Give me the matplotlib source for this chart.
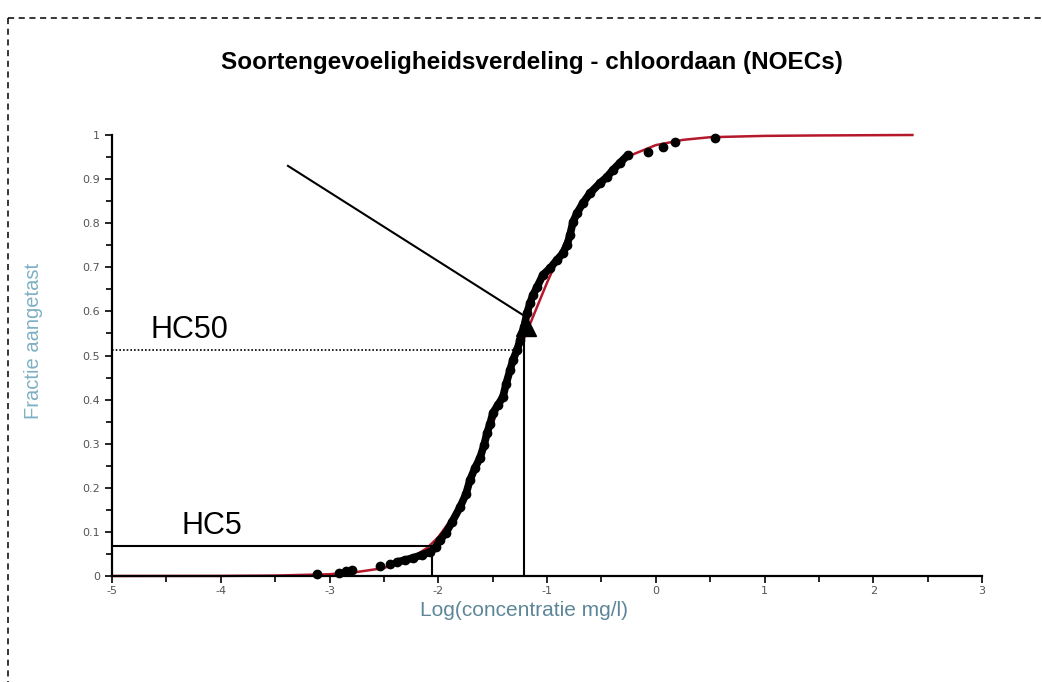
import matplotlib
matplotlib.use("Agg")
import matplotlib.pyplot as plt
from matplotlib.lines import Line2D

# ---- data ----
obs_x = [-3.115, -2.913, -2.848, -2.793, -2.536, -2.444, -2.379, -2.306, -2.232,
         -2.149, -2.076, -2.021, -1.984, -1.929, -1.874, -1.800, -1.745, -1.708,
         -1.662, -1.616, -1.579, -1.552, -1.524, -1.497, -1.451, -1.405, -1.377,
         -1.340, -1.313, -1.276, -1.248, -1.211, -1.184, -1.156, -1.129, -1.092,
         -1.037, -0.972, -0.908, -0.853, -0.816, -0.789, -0.761, -0.724, -0.669,
         -0.605, -0.513, -0.448, -0.393, -0.329, -0.255, -0.071, 0.067, 0.177, 0.545]
obs_y = [0.005, 0.007, 0.011, 0.014, 0.023, 0.027, 0.032, 0.036, 0.041,
         0.048, 0.054, 0.066, 0.082, 0.098, 0.122, 0.156, 0.186, 0.218,
         0.245, 0.268, 0.297, 0.324, 0.345, 0.370, 0.388, 0.406, 0.435,
         0.467, 0.490, 0.512, 0.535, 0.565, 0.596, 0.619, 0.637, 0.655,
         0.683, 0.698, 0.717, 0.732, 0.751, 0.773, 0.803, 0.823, 0.846,
         0.868, 0.891, 0.905, 0.921, 0.937, 0.955, 0.961, 0.973, 0.984, 0.993]

fit_x = [-5.0, -4.0, -3.5, -3.0, -2.75, -2.5, -2.25, -2.1, -2.0, -1.9, -1.8, -1.7,
         -1.6, -1.5, -1.4, -1.3, -1.2, -1.1, -1.0, -0.9, -0.8, -0.7, -0.6, -0.5,
         -0.4, -0.25, 0.0, 0.25, 0.5, 1.0, 1.5, 2.36]
fit_y = [0.0, 0.0002, 0.001, 0.004, 0.009, 0.018, 0.04, 0.064, 0.088, 0.122, 0.165,
         0.215, 0.275, 0.345, 0.415, 0.485, 0.545, 0.605, 0.665, 0.72, 0.775, 0.825,
         0.865, 0.90, 0.925, 0.952, 0.977, 0.989, 0.995, 0.998, 0.999, 1.0]

hc5_x, hc5_y = -2.057, 0.068
hc50_x, hc50_y = -1.21, 0.512
hc50_line_x_end = -1.27
arrow_start = (-3.382, 0.93)
arrow_tip = (-1.19, 0.587)

x_ticks = [-5, -4, -3, -2, -1, 0, 1, 2, 3]
y_ticks = [0, 0.1, 0.2, 0.3, 0.4, 0.5, 0.6, 0.7, 0.8, 0.9, 1.0]
y_ticklabels = ["0", "0.1", "0.2", "0.3", "0.4", "0.5", "0.6", "0.7", "0.8", "0.9", "1"]

title = "Soortengevoeligheidsverdeling - chloordaan (NOECs)"
xlabel = "Log(concentratie mg/l)"
ylabel = "Fractie aangetast"

W, H = 1042, 682
fig = plt.figure(figsize=(W / 100, H / 100), dpi=100)
ax = fig.add_axes([112 / W, 1 - 576 / H, (982 - 112) / W, (576 - 135) / H])
ax.set_xlim(-5, 3)
ax.set_ylim(0, 1)

# fitted curve (red) and observations (black)
ax.plot(fit_x, fit_y, color="#b5182b", lw=1.8, zorder=2, clip_on=False)
dense = slice(6, 51)
ax.plot(obs_x[dense], obs_y[dense], color="black", lw=5.5, solid_capstyle="round",
        zorder=3)
ax.plot(obs_x, obs_y, "o", color="black", ms=6, zorder=4, clip_on=False)

# HC5 lines
ax.plot([-5, hc5_x], [hc5_y, hc5_y], color="black", lw=1.5, zorder=5)
ax.plot([hc5_x, hc5_x], [0, hc5_y], color="black", lw=1.5, zorder=5)
# HC50 lines
ax.plot([-5, hc50_line_x_end], [hc50_y, hc50_y], color="black", lw=1.2,
        ls=(0, (1, 1.2)), zorder=5)
ax.plot([hc50_x, hc50_x], [0, arrow_tip[1] - 0.03], color="black", lw=1.5, zorder=5)
ax.plot([arrow_start[0], arrow_tip[0]], [arrow_start[1], arrow_tip[1]],
        color="black", lw=1.5, zorder=5)
# upward triangle head
ax.plot([arrow_tip[0]], [arrow_tip[1] - 0.02], marker="^", ms=14, color="black",
        zorder=6)

ax.text(-4.65, 0.523, "HC50", fontsize=22, family="Liberation Sans",
        ha="left", va="bottom")
ax.text(-4.36, 0.08, "HC5", fontsize=22, family="Liberation Sans",
        ha="left", va="bottom")

# axes styling
for s in ["top", "right"]:
    ax.spines[s].set_visible(False)
for s in ["left", "bottom"]:
    ax.spines[s].set_linewidth(1.6)
ax.set_xticks(x_ticks)
ax.set_xticklabels([str(v) for v in x_ticks])
ax.set_xticks([v + 0.5 for v in x_ticks[:-1]], minor=True)
ax.set_yticks(y_ticks)
ax.set_yticklabels(y_ticklabels)
ax.set_yticks([v + 0.05 for v in y_ticks[:-1]], minor=True)
ax.tick_params(axis="both", which="both", direction="out", colors="black",
               labelcolor="#555555", labelsize=8, width=1.2)
ax.tick_params(axis="both", which="major", length=5)
ax.tick_params(axis="both", which="minor", length=4)
ax.tick_params(axis="x", pad=2)

fig.text(532 / W, 1 - 62 / H, title, ha="center", va="center", fontsize=17.5,
         fontweight="bold", family="Liberation Sans")
fig.text(524 / W, 1 - 611 / H, xlabel, ha="center", va="center", fontsize=15,
         color="#5d8799", family=["Liberation Sans Narrow", "Liberation Sans"])
fig.text(34 / W, 1 - 341 / H, ylabel, ha="center", va="center", rotation=90,
         fontsize=14.5, color="#7fb0c4",
         family=["Liberation Sans Narrow", "Liberation Sans"])

# dashed frame (top and left edges visible)
fx0, fy0 = 8 / W, 1 - 18 / H
fig.add_artist(Line2D([fx0, 1.01], [fy0, fy0], transform=fig.transFigure,
                      color="black", lw=1.1, ls=(0, (4, 3))))
fig.add_artist(Line2D([fx0, fx0], [fy0, -0.01], transform=fig.transFigure,
                      color="black", lw=1.1, ls=(0, (4, 3))))

fig.savefig("out.png", dpi=100)
